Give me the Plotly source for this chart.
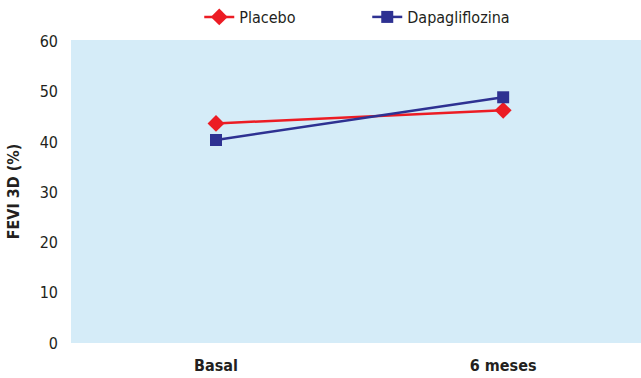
import plotly.graph_objects as go

categories = ["Basal", "6 meses"]
placebo = [43.7, 46.3]
dapagliflozina = [40.4, 48.9]
y_ticks = [0, 10, 20, 30, 40, 50, 60]

FONT = "DejaVu Sans Condensed, Liberation Sans Narrow, Arial Narrow, Liberation Sans, sans-serif"
RED = "#ec1c24"
NAVY = "#2e3192"

fig = go.Figure()
fig.add_trace(go.Scatter(
    x=categories, y=placebo, name="Placebo", mode="lines+markers",
    line=dict(color=RED, width=2.5),
    marker=dict(symbol="diamond", size=13, color=RED),
))
fig.add_trace(go.Scatter(
    x=categories, y=dapagliflozina, name="Dapagliflozina", mode="lines+markers",
    line=dict(color=NAVY, width=2.5),
    marker=dict(symbol="square", size=12, color=NAVY),
))

fig.update_layout(
    width=641, height=378,
    margin=dict(l=71, r=0, t=40, b=35),
    paper_bgcolor="white",
    plot_bgcolor="#d5ecf8",
    font=dict(family=FONT, size=15, color="#231f20"),
    showlegend=True,
    legend=dict(orientation="h", xref="paper", x=0.225, xanchor="left",
                yref="container", y=0.955, yanchor="middle",
                font=dict(size=16), entrywidth=123, entrywidthmode="pixels",
                traceorder="normal", bgcolor="rgba(0,0,0,0)"),
    xaxis=dict(type="category", range=[-0.505, 1.48], showgrid=False, zeroline=False,
               showline=False, ticks="", tickfont=dict(size=16),
               ticklabelstandoff=11, automargin=False),
    yaxis=dict(range=[0, 60.3], tickvals=y_ticks, showgrid=False, zeroline=False,
               showline=False, ticks="", tickfont=dict(size=16), ticklabelstandoff=12,
               automargin=False,
               title=dict(text="<b>FEVI 3D (%)</b>", font=dict(size=16), standoff=16)),
)
fig.update_xaxes(ticktext=["<b>Basal</b>", "<b>6 meses</b>"], tickvals=categories)

fig.write_html("out.html", config={"displayModeBar": False},
               post_script="document.body.style.margin='0';document.body.style.overflow='hidden';")
